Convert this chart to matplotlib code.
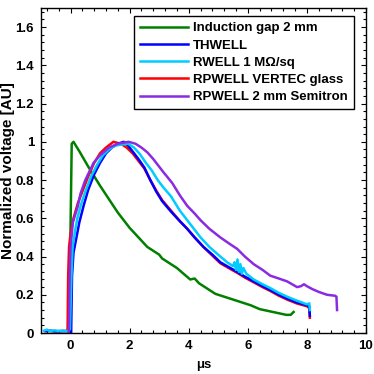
import matplotlib
matplotlib.use('Agg')
import matplotlib.pyplot as plt
from matplotlib.ticker import MultipleLocator, FormatStrFormatter

plt.rcParams['font.family'] = ['Liberation Sans', 'DejaVu Sans']
plt.rcParams['font.weight'] = 'bold'
plt.rcParams['axes.labelweight'] = 'bold'

# Induction gap 2 mm
green_x = [-0.02, 0.0, 0.04, 0.1, 0.3, 0.6, 1.0, 1.3, 1.6, 2.0, 2.3, 2.6, 2.8,
           2.9, 3.0, 3.1, 3.3, 3.6, 3.9, 4.05, 4.2, 4.35, 4.6, 4.9, 5.2, 5.5,
           5.8, 6.1, 6.4, 6.7, 7.0, 7.3, 7.45, 7.55]
green_y = [0.0, 0.55, 0.99, 1.0, 0.95, 0.87, 0.77, 0.70, 0.63, 0.55, 0.50, 0.45,
           0.43, 0.42, 0.41, 0.39, 0.37, 0.34, 0.30, 0.28, 0.285, 0.26, 0.235,
           0.205, 0.19, 0.175, 0.16, 0.145, 0.125, 0.115, 0.105, 0.095, 0.095, 0.11]

# THWELL
blue_x = [-0.85, -0.7, -0.5, -0.3, -0.1, 0.02, 0.05, 0.1, 0.2, 0.3, 0.45, 0.6,
          0.8, 1.0, 1.2, 1.4, 1.6, 1.8, 1.95, 2.1, 2.3, 2.5, 2.7, 2.9, 3.1, 3.4,
          3.7, 3.95, 4.2, 4.5, 4.8, 5.07, 5.35, 5.64, 5.9, 6.2, 6.5, 6.76, 7.05,
          7.33, 7.65, 8.0, 8.08, 8.1]
blue_y = [0.01, 0.012, 0.008, 0.01, 0.01, 0.0, 0.3, 0.42, 0.5, 0.58, 0.67, 0.75,
          0.83, 0.89, 0.94, 0.97, 0.99, 1.0, 0.98, 0.95, 0.91, 0.865, 0.80, 0.74,
          0.69, 0.635, 0.585, 0.545, 0.50, 0.45, 0.41, 0.37, 0.345, 0.32, 0.295,
          0.27, 0.245, 0.225, 0.20, 0.18, 0.16, 0.145, 0.14, 0.09]

# RWELL 1 MOhm/sq
cyan_x = [-0.9, -0.8, -0.7, -0.55, -0.4, -0.25, -0.1, -0.02, 0.03, 0.07, 0.15,
          0.23, 0.35, 0.5, 0.7, 0.9, 1.1, 1.3, 1.5, 1.7, 1.95, 2.15, 2.35, 2.55,
          2.75, 2.95, 3.15, 3.4, 3.7, 3.95, 4.2, 4.4, 4.7, 5.07, 5.3, 5.5, 5.55,
          5.6, 5.65, 5.7, 5.75, 5.8, 5.85, 5.95, 6.2, 6.5, 6.76, 7.05, 7.33, 7.65,
          8.0, 8.08, 8.1]
cyan_y = [0.012, 0.018, 0.01, 0.014, 0.01, 0.012, 0.01, 0.02, 0.3, 0.45, 0.53,
          0.6, 0.67, 0.74, 0.82, 0.88, 0.93, 0.96, 0.98, 0.985, 0.99, 0.97, 0.935,
          0.89, 0.85, 0.80, 0.76, 0.715, 0.64, 0.59, 0.54, 0.50, 0.45, 0.40, 0.37,
          0.35, 0.37, 0.33, 0.385, 0.32, 0.36, 0.31, 0.34, 0.31, 0.28, 0.255,
          0.235, 0.21, 0.19, 0.17, 0.15, 0.155, 0.12]

# RPWELL VERTEC glass
red_x = [-0.8, -0.5, -0.12, -0.1, -0.08, -0.05, 0.0, 0.1, 0.25, 0.4, 0.6, 0.8,
         1.0, 1.2, 1.45, 1.7, 1.9, 2.1, 2.3, 2.5, 2.7, 2.9, 3.1, 3.4, 3.7, 3.95,
         4.2, 4.5, 4.8, 5.07, 5.35, 5.64, 5.9, 6.2, 6.5, 6.76, 7.05, 7.33, 7.65,
         8.0, 8.08, 8.1]
red_y = [0.01, 0.01, 0.01, 0.02, 0.3, 0.45, 0.52, 0.6, 0.68, 0.74, 0.82, 0.89,
         0.94, 0.97, 1.0, 0.99, 0.97, 0.94, 0.90, 0.86, 0.80, 0.745, 0.695, 0.64,
         0.585, 0.545, 0.50, 0.45, 0.405, 0.365, 0.34, 0.315, 0.29, 0.265, 0.24,
         0.22, 0.195, 0.175, 0.155, 0.14, 0.13, 0.08]

# RPWELL 2 mm Semitron
purple_x = [-0.06, -0.03, 0.0, 0.08, 0.24, 0.34, 0.5, 0.78, 1.0, 1.3, 1.6, 1.97,
            2.2, 2.4, 2.6, 2.8, 2.95, 3.15, 3.44, 3.7, 3.95, 4.2, 4.4, 4.7, 5.07,
            5.35, 5.64, 5.9, 6.2, 6.5, 6.76, 7.05, 7.33, 7.67, 7.8, 7.9, 8.0, 8.18,
            8.4, 8.68, 8.95, 9.0, 9.02]
purple_y = [0.0, 0.3, 0.45, 0.58, 0.66, 0.73, 0.80, 0.89, 0.93, 0.97, 0.99, 1.0,
            0.99, 0.97, 0.945, 0.91, 0.88, 0.84, 0.785, 0.72, 0.665, 0.625, 0.59,
            0.545, 0.50, 0.47, 0.44, 0.40, 0.36, 0.33, 0.30, 0.285, 0.27, 0.24,
            0.245, 0.255, 0.245, 0.23, 0.215, 0.20, 0.195, 0.19, 0.12]

fig = plt.figure(figsize=(3.74, 3.74), dpi=100)
ax = fig.add_axes([0.1096, 0.1096, 0.869, 0.869])

lw = 1.8
l_green, = ax.plot(green_x, green_y, color='#008000', lw=lw, label='Induction gap 2 mm')
l_red, = ax.plot(red_x, red_y, color='#ff0000', lw=lw, label='RPWELL VERTEC glass')
l_blue, = ax.plot(blue_x, blue_y, color='#0000ff', lw=lw, label='THWELL')
l_cyan, = ax.plot(cyan_x, cyan_y, color='#00ccff', lw=lw, label='RWELL 1 M\u03a9/sq')
l_purple, = ax.plot(purple_x, purple_y, color='#8a2be2', lw=lw, label='RPWELL 2 mm Semitron')

ax.set_xlim(-1, 10)
ax.set_ylim(0, 1.7)
ax.xaxis.set_major_locator(MultipleLocator(2))
ax.xaxis.set_minor_locator(MultipleLocator(0.4))
ax.yaxis.set_major_locator(MultipleLocator(0.2))
ax.yaxis.set_minor_locator(MultipleLocator(0.04))
ax.yaxis.set_major_formatter(FormatStrFormatter('%g'))
ax.tick_params(which='both', direction='in', top=True, right=True,
               labelsize=9.5, width=0.8)
ax.tick_params(which='major', length=3.5, pad=5)
ax.tick_params(which='minor', length=2)
for s in ax.spines.values():
    s.set_linewidth(1.0)

ax.set_xlabel('\u03bcs', fontsize=9.5, labelpad=5)
ax.set_ylabel('Normalized voltage [AU]', fontsize=11, va='center')
ax.yaxis.set_label_coords(-0.1, 0.5)

leg = ax.legend(handles=[l_green, l_blue, l_cyan, l_red, l_purple],
                loc='upper right', bbox_to_anchor=(0.962, 0.975),
                fontsize=9.5, fancybox=False, framealpha=1, edgecolor='black',
                handlelength=3.6, handletextpad=0.4, labelspacing=0.38,
                borderpad=0.45, borderaxespad=0)
leg.get_frame().set_linewidth(1.0)

fig.savefig('out.png', dpi=100)
